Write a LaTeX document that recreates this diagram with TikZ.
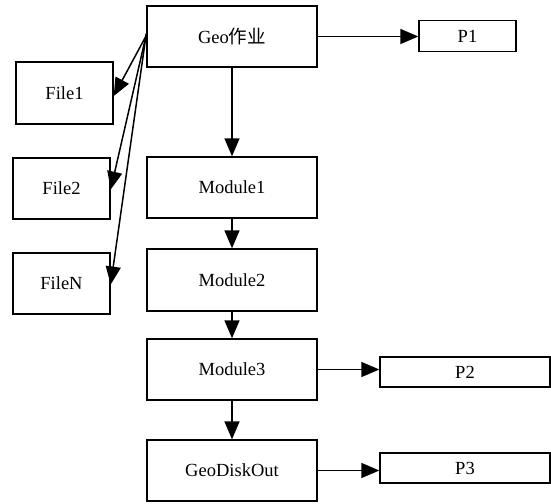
\documentclass[tikz,border=0pt]{standalone}
\usepackage{fontspec}
\setmainfont{Liberation Serif}
\newfontfamily\cjk{Noto Sans CJK SC}
\usetikzlibrary{arrows.meta}
\tikzset{
  box/.style={draw, line width=1.4pt, minimum width=170pt, minimum height=61pt,
    inner sep=0pt, font=\fontsize{18.5}{20}\selectfont},
  filebox/.style={box, minimum width=97pt, minimum height=61pt},
  outbox/.style={box, minimum height=30pt},
  link/.style={line width=1.5pt, -{Triangle[length=18pt,width=15pt]}},
}
\begin{document}
\begin{tikzpicture}[x=1pt,y=-1pt]
  \useasboundingbox (0,0) rectangle (551,503);
  % main chain
  \node[box] (geo) at (232,36.5) {Geo{\cjk 作业}};
  \node[box] (m1) at (232,187.5) {Module1};
  \node[box, minimum height=62pt] (m2) at (232,280) {Module2};
  \node[box] (m3) at (232,369.5) {Module3};
  \node[box, minimum height=61pt] (gdo) at (232,470.5) {GeoDiskOut};
  % input files
  \node[filebox, minimum height=62pt] (f1) at (64.5,93) {File1};
  \node[filebox] (f2) at (61.5,188.5) {File2};
  \node[filebox] (fn) at (61.5,283.5) {FileN};
  % outputs
  \node[outbox, minimum width=97pt, minimum height=31pt] (p1) at (467.5,36) {P1};
  \node[outbox] (p2) at (465,372) {P2};
  \node[outbox] (p3) at (465,468) {P3};
  % connectors
  \draw[link] (geo) -- (m1);
  \draw[link] (m1) -- (m2);
  \draw[link] (m2) -- (m3);
  \draw[link] (m3) -- (gdo);
  \draw[link] (geo.east) -- (geo.east -| p1.west);
  \draw[link] (m3.east) -- (m3.east -| p2.west);
  \draw[link] (gdo.east) -- (gdo.east -| p3.west);
  \draw[link] ([yshift=1pt]geo.west) -- ([yshift=-3pt]f1.east);
  \draw[link] ([yshift=2pt]geo.west) -- ([yshift=-1pt]f2.east);
  \draw[link] ([yshift=3pt]geo.west) -- ([yshift=-1pt]fn.east);
\end{tikzpicture}
\end{document}
